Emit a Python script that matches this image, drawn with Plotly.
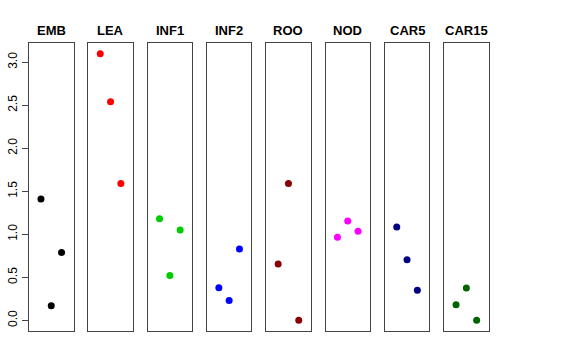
import plotly.graph_objects as go

categories = ["EMB", "LEA", "INF1", "INF2", "ROO", "NOD", "CAR5", "CAR15"]
colors = ["#000000", "#FF0000", "#00CD00", "#0000FF", "#8B0000", "#FF00FF", "#000080", "#006400"]
x_pos = [1, 2, 3]
values = [
    [1.41, 0.17, 0.79],
    [3.10, 2.54, 1.59],
    [1.18, 0.52, 1.05],
    [0.38, 0.23, 0.83],
    [0.655, 1.59, 0.0],
    [0.965, 1.155, 1.035],
    [1.085, 0.705, 0.35],
    [0.18, 0.375, 0.0],
]
y_ticks = [0.0, 0.5, 1.0, 1.5, 2.0, 2.5, 3.0]
y_tick_labels = ["0.0", "0.5", "1.0", "1.5", "2.0", "2.5", "3.0"]

W, H = 576, 360
left0, pw, step = 29.0, 44.5, 59.3
top, bottom = 43.0, 331.0
ymax = max(max(v) for v in values)
pad = 0.04 * ymax
yr = [-pad, ymax + pad]

fig = go.Figure()
for i, (cat, col, vals) in enumerate(zip(categories, colors, values)):
    n = "" if i == 0 else str(i + 1)
    fig.add_trace(go.Scatter(x=x_pos, y=vals, mode="markers",
                             marker=dict(color=col, size=7, line=dict(width=0)),
                             xaxis="x" + n, yaxis="y" + n, showlegend=False,
                             hoverinfo="y"))
    x0 = (left0 + i * step) / W
    x1 = (left0 + i * step + pw) / W
    fig.layout["xaxis" + n] = dict(domain=[x0, x1], range=[-0.16, 4.16],
                                   showticklabels=False, showgrid=False, zeroline=False,
                                   showline=True, mirror=True, linecolor="#444", linewidth=1,
                                   ticks="", anchor="y" + n, fixedrange=True, automargin=False)
    yax = dict(domain=[1 - bottom / H, 1 - top / H], range=yr,
               showgrid=False, zeroline=False, showline=True, mirror=True,
               linecolor="#444", linewidth=1, anchor="x" + n, fixedrange=True,
               automargin=False)
    if i == 0:
        yax.update(tickvals=y_ticks, ticktext=y_tick_labels, ticks="outside",
                   ticklen=6, tickcolor="#444", tickangle=-90,
                   tickfont=dict(family="Liberation Sans, Arial", size=12, color="#000"))
    else:
        yax.update(showticklabels=False, ticks="")
    fig.layout["yaxis" + n] = yax
    fig.add_annotation(text="<b>" + cat + "</b>", x=(x0 + x1) / 2, y=1 - 30 / H,
                       xref="paper", yref="paper", showarrow=False,
                       xanchor="center", yanchor="middle",
                       font=dict(family="Liberation Sans, Arial", size=13, color="#000"))

fig.update_layout(width=W, height=H, margin=dict(l=0, r=0, t=0, b=0, autoexpand=False),
                  paper_bgcolor="white", plot_bgcolor="white")
fig.write_html("out.html", config={"displayModeBar": False},
               post_script="document.body.style.margin='0';")
